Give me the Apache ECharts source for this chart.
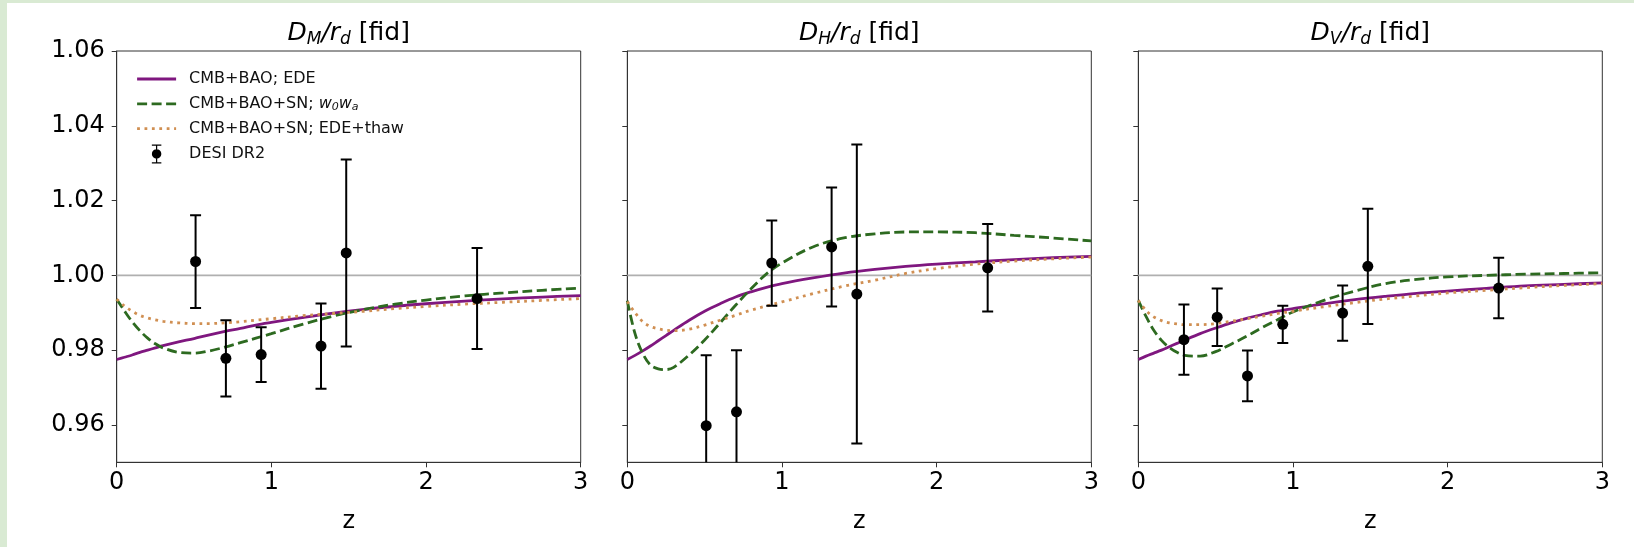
<!DOCTYPE html>
<html>
<head>
<meta charset="utf-8">
<script src="https://cdn.jsdelivr.net/npm/echarts@6/dist/echarts.min.js"></script>
<style>
  html, body { margin: 0; padding: 0; background: #ffffff; }
  #chart { position: absolute; left: 0; top: 0; width: 1634px; height: 547px; }
  .edge { position: absolute; background: #d9ead3; z-index: 5; }
</style>
</head>
<body>
<div id="chart"></div>
<div class="edge" style="left:0;top:0;width:7px;height:547px"></div>
<div class="edge" style="left:0;top:0;width:1634px;height:3px"></div>
<script>
// Redshift grid on which the model curves are tabulated
const zGrid = [0, 0.05, 0.1, 0.15, 0.2, 0.25, 0.3, 0.4, 0.5, 0.6, 0.7, 0.8, 0.9, 1.0, 1.2, 1.4, 1.6, 1.8, 2.0, 2.25, 2.5, 2.75, 3.0];

// D_M / r_d relative to fiducial
const dmEDE  = [0.9775,0.9781,0.9787,0.9794,0.9800,0.9806,0.9812,0.9822,0.9831,0.9841,0.9850,0.9858,0.9867,0.9874,0.9887,0.9899,0.9909,0.9917,0.9924,0.9931,0.9937,0.9942,0.9946];
const dmW0Wa = [0.9936,0.9905,0.9876,0.9852,0.9832,0.9817,0.9806,0.9794,0.9792,0.9798,0.9808,0.9820,0.9832,0.9844,0.9869,0.9891,0.9909,0.9923,0.9934,0.9945,0.9953,0.9960,0.9966];
const dmThaw = [0.9936,0.9918,0.9904,0.9893,0.9886,0.9881,0.9877,0.9873,0.9871,0.9871,0.9873,0.9876,0.9880,0.9884,0.9892,0.9898,0.9904,0.9911,0.9917,0.9923,0.9928,0.9933,0.9938];

// D_H / r_d relative to fiducial
const dhEDE  = [0.9775,0.9786,0.9798,0.9811,0.9825,0.9839,0.9853,0.9880,0.9904,0.9924,0.9942,0.9956,0.9968,0.9978,0.9993,1.0006,1.0016,1.0024,1.0030,1.0036,1.0042,1.0047,1.0051];
const dhW0Wa = [0.9932,0.9844,0.9791,0.9760,0.9750,0.9748,0.9754,0.9787,0.9827,0.9873,0.9920,0.9964,1.0004,1.0033,1.0076,1.0100,1.0111,1.0116,1.0116,1.0114,1.0107,1.0100,1.0092];
const dhThaw = [0.9930,0.9900,0.9876,0.9863,0.9857,0.9853,0.9852,0.9856,0.9867,0.9880,0.9893,0.9907,0.9918,0.9929,0.9951,0.9971,0.9987,1.0005,1.0018,1.0030,1.0038,1.0044,1.0049];

// D_V / r_d relative to fiducial
const dvEDE  = [0.9775,0.9784,0.9792,0.9800,0.9809,0.9818,0.9827,0.9844,0.9859,0.9873,0.9885,0.9895,0.9904,0.9911,0.9924,0.9935,0.9944,0.9952,0.9958,0.9965,0.9972,0.9976,0.9980];
const dvW0Wa = [0.9933,0.9890,0.9853,0.9826,0.9807,0.9794,0.9786,0.9784,0.9796,0.9816,0.9837,0.9860,0.9881,0.9902,0.9933,0.9958,0.9978,0.9989,0.9996,1.0000,1.0003,1.0005,1.0007];
const dvThaw = [0.9933,0.9906,0.9889,0.9879,0.9873,0.9870,0.9868,0.9868,0.9871,0.9877,0.9884,0.9891,0.9898,0.9904,0.9916,0.9927,0.9937,0.9945,0.9953,0.9960,0.9967,0.9973,0.9978];

// DESI DR2 measurements (ratio to fiducial, 1-sigma errors)
const desiZ     = [0.51, 0.706, 0.934, 1.321, 1.484, 2.33];
const desiDM    = [1.0037, 0.9778, 0.9788, 0.9811, 1.0060, 0.9938];
const desiDMerr = [0.0124, 0.0102, 0.0073, 0.0114, 0.0250, 0.0135];
const desiDH    = [0.9598, 0.9635, 1.0033, 1.0076, 0.9950, 1.0020];
const desiDHerr = [0.0188, 0.0165, 0.0114, 0.0159, 0.0400, 0.0117];
const desiZV    = [0.295, 0.51, 0.706, 0.934, 1.321, 1.484, 2.33];
const desiDV    = [0.9828, 0.9888, 0.9731, 0.9869, 0.9899, 1.0024, 0.9966];
const desiDVerr = [0.0094, 0.0077, 0.0068, 0.0050, 0.0074, 0.0154, 0.0081];

// Axis ticks
const yTicks = [0.96, 0.98, 1.00, 1.02, 1.04, 1.06];
const yRange = [0.95, 1.06];
const xRange = [0, 3];

// Series names
const NAME_EDE  = 'CMB+BAO; EDE';
const NAME_W0WA = 'CMB+BAO+SN; w0wa';
const NAME_THAW = 'CMB+BAO+SN; EDE+thaw';
const NAME_DESI = 'DESI DR2';

// Panel layout
const FONT = 'DejaVu Sans';
const PLOT_LEFT = [116.7, 627.3, 1138.3];
const PLOT_TOP = 51;
const PLOT_W = 464;
const PLOT_H = 411.3;
const COL_EDE = '#7f177f';
const COL_W0WA = '#2d6a20';
const COL_THAW = '#d08f52';
const LINE_W = 2.8;
const DASH = [10, 4.5];
const DOT = [2.8, 4.6];

const panels = [
  { sub: 'M', curves: [dmEDE, dmW0Wa, dmThaw], z: desiZ,  v: desiDM, e: desiDMerr },
  { sub: 'H', curves: [dhEDE, dhW0Wa, dhThaw], z: desiZ,  v: desiDH, e: desiDHerr },
  { sub: 'V', curves: [dvEDE, dvW0Wa, dvThaw], z: desiZV, v: desiDV, e: desiDVerr }
];

const pair = (xs, ys) => xs.map((x, i) => [x, ys[i]]);

function renderErrorBar(params, api) {
  const x = api.value(0), y = api.value(1), e = api.value(2);
  const top = api.coord([x, y + e]);
  const bot = api.coord([x, y - e]);
  const cap = 5.5;
  const st = { stroke: '#000', lineWidth: 2 };
  return {
    type: 'group',
    children: [
      { type: 'line', shape: { x1: top[0], y1: top[1], x2: bot[0], y2: bot[1] }, style: st },
      { type: 'line', shape: { x1: top[0] - cap, y1: top[1], x2: top[0] + cap, y2: top[1] }, style: st },
      { type: 'line', shape: { x1: bot[0] - cap, y1: bot[1], x2: bot[0] + cap, y2: bot[1] }, style: st }
    ]
  };
}

const grids = [], xAxes = [], yAxes = [], series = [], graphics = [];

panels.forEach((p, i) => {
  grids.push({
    left: PLOT_LEFT[i], top: PLOT_TOP, width: PLOT_W, height: PLOT_H,
    show: true, borderColor: '#333', borderWidth: 1, backgroundColor: '#fff',
    containLabel: false, outerBoundsMode: 'none'
  });
  xAxes.push({
    type: 'value', gridIndex: i, min: xRange[0], max: xRange[1], interval: 1,
    axisLine: { show: true, onZero: false, lineStyle: { color: '#333', width: 1 } },
    axisTick: { show: true, inside: false, length: 5, lineStyle: { color: '#333', width: 1 } },
    axisLabel: { fontSize: 24, color: '#000', fontFamily: FONT, margin: 8, showMinLabel: true, showMaxLabel: true },
    splitLine: { show: false },
    name: 'z', nameLocation: 'middle', nameGap: 47,
    nameTextStyle: { fontSize: 24, color: '#000', fontFamily: FONT }
  });
  yAxes.push({
    type: 'value', gridIndex: i, min: yRange[0], max: yRange[1],
    axisLine: { show: true, onZero: false, lineStyle: { color: '#333', width: 1 } },
    axisTick: { show: true, inside: false, length: 5, customValues: yTicks, lineStyle: { color: '#333', width: 1 } },
    axisLabel: {
      show: i === 0, customValues: yTicks, fontSize: 24, color: '#000', fontFamily: FONT, margin: 12,
      formatter: v => Number(v).toFixed(2)
    },
    splitLine: { show: false }
  });

  // reference line at unity
  series.push({
    type: 'line', name: 'unity', xAxisIndex: i, yAxisIndex: i, silent: true,
    data: [[xRange[0], 1], [xRange[1], 1]], symbol: 'none', z: 1,
    lineStyle: { color: '#b0b0b0', width: 1.6 }
  });

  const styles = [
    { name: NAME_EDE,  color: COL_EDE,  type: 'solid' },
    { name: NAME_W0WA, color: COL_W0WA, type: DASH },
    { name: NAME_THAW, color: COL_THAW, type: DOT }
  ];
  styles.forEach((s, k) => {
    series.push({
      type: 'line', name: s.name, xAxisIndex: i, yAxisIndex: i,
      data: pair(zGrid, p.curves[k]), symbol: 'none', smooth: 0.35, z: 3,
      itemStyle: { color: s.color },
      lineStyle: { color: s.color, width: LINE_W, type: s.type, cap: 'butt' }
    });
  });

  series.push({
    type: 'custom', name: 'DESI DR2 errors', xAxisIndex: i, yAxisIndex: i, clip: true, z: 4,
    silent: true,
    renderItem: renderErrorBar,
    data: p.z.map((z, k) => [z, p.v[k], p.e[k]])
  });
  series.push({
    type: 'scatter', name: NAME_DESI, xAxisIndex: i, yAxisIndex: i, z: 5,
    data: pair(p.z, p.v), symbol: 'circle', symbolSize: 11,
    itemStyle: { color: '#000', opacity: 1 }
  });

  // panel heading
  graphics.push({
    type: 'text',
    x: PLOT_LEFT[i] + PLOT_W / 2, y: 33.3,
    style: {
      text: '{i|D}{s|' + p.sub + '}{i|/r}{s|d}{n| [fid]}',
      align: 'center', verticalAlign: 'middle',
      rich: {
        i: { fontFamily: FONT, fontSize: 25, fontStyle: 'italic', lineHeight: 30, fill: '#000', verticalAlign: 'middle' },
        s: { fontFamily: FONT, fontSize: 17, fontStyle: 'italic', lineHeight: 18, fill: '#000', verticalAlign: 'bottom' },
        n: { fontFamily: FONT, fontSize: 25, lineHeight: 30, fill: '#000', verticalAlign: 'middle' }
      }
    }
  });
});

// error-bar glyph for the legend entry
const errorBarIcon = 'path://M0,0 H10 V1.3 H0 Z M4.35,0 H5.65 V20 H4.35 Z M0,18.7 H10 V20 H0 Z M0,10 A5,5 0 1,1 10,10 A5,5 0 1,1 0,10 Z';

const option = {
  animation: false,
  backgroundColor: '#ffffff',
  textStyle: { fontFamily: FONT },
  grid: grids,
  xAxis: xAxes,
  yAxis: yAxes,
  legend: {
    orient: 'vertical', left: 130.7, top: 65,
    itemWidth: 39, itemHeight: 19, itemGap: 6.8,
    selectedMode: false,
    data: [
      { name: NAME_EDE,  itemStyle: { opacity: 0 }, lineStyle: { width: LINE_W, type: 'solid', color: COL_EDE } },
      { name: NAME_W0WA, itemStyle: { opacity: 0 }, lineStyle: { width: LINE_W, type: DASH, color: COL_W0WA } },
      { name: NAME_THAW, itemStyle: { opacity: 0 }, lineStyle: { width: LINE_W, type: DOT, color: COL_THAW } },
      { name: NAME_DESI, icon: errorBarIcon }
    ],
    formatter: name => name === NAME_W0WA
      ? 'CMB+BAO+SN; {it|w}{sb|0}{it|w}{sb|a}'
      : name,
    textStyle: {
      fontFamily: FONT, fontSize: 16, color: '#111', lineHeight: 18, padding: [0, 0, 0, 8],
      rich: {
        it: { fontFamily: FONT, fontSize: 16, fontStyle: 'italic', lineHeight: 18, color: '#111' },
        sb: { fontFamily: FONT, fontSize: 11, fontStyle: 'italic', lineHeight: 10, color: '#111', verticalAlign: 'bottom' }
      }
    }
  },
  graphic: graphics,
  series: series
};

const chart = echarts.init(document.getElementById('chart'), null, { renderer: 'canvas' });
chart.setOption(option);
</script>
</body>
</html>
